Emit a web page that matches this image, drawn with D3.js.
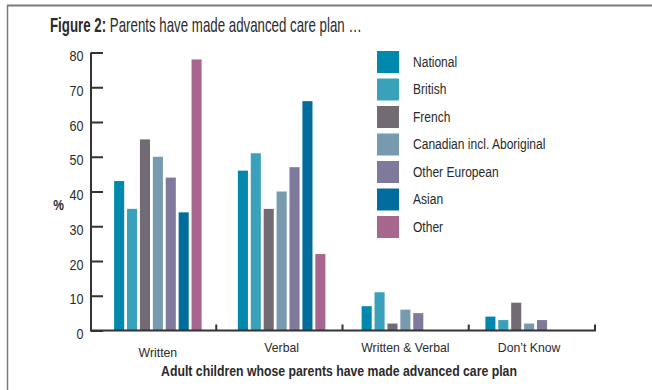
<!DOCTYPE html>
<html>
<head>
<meta charset="utf-8">
<script src="https://cdn.jsdelivr.net/npm/d3@7"></script>
<style>
  body { margin: 0; background: #fff; }
  svg text { font-family: "Liberation Sans", Arial, sans-serif; fill: #2a2a2a; }
</style>
</head>
<body>
<svg id="chart" width="652" height="390"></svg>
<script>
// Data
const categories = ["Written", "Verbal", "Written & Verbal", "Don\u2019t Know"];
const seriesNames = ["National", "British", "French", "Canadian incl. Aboriginal", "Other European", "Asian", "Other"];
const seriesColors = ["#0089ad", "#39a1b9", "#736b73", "#779aaf", "#7f7a9b", "#006d9c", "#a6668d"];
const national  = [43, 46, 7, 4];
const british   = [35, 51, 11, 3];
const french    = [55, 35, 2, 8];
const canadian  = [50, 40, 6, 2];
const otherEuro = [44, 47, 5, 3];
const asian     = [34, 66, 0, 0];
const other     = [78, 22, 0, 0];
const seriesValues = [national, british, french, canadian, otherEuro, asian, other];
const yTicks = [0, 10, 20, 30, 40, 50, 60, 70, 80];

const svg = d3.select("#chart");

// Squeeze a text horizontally so it reads like a condensed face.
// Each text is positioned by translate(x, y) and narrowed by scale(f, 1).
function condense(sel, f) {
  sel.each(function () {
    const t = d3.select(this);
    const x = +t.attr("data-x"), yy = +t.attr("data-y");
    t.attr("transform", `translate(${x},${yy}) scale(${f},1)`);
  });
}
function naturalWidth(node) { return node.getComputedTextLength(); }

// Frame (top and left rules)
svg.append("line").attr("x1", 7).attr("x2", 652).attr("y1", 5.5).attr("y2", 5.5)
  .attr("stroke", "#7a7a7a").attr("stroke-width", 2);
svg.append("line").attr("x1", 7.5).attr("x2", 7.5).attr("y1", 5).attr("y2", 390)
  .attr("stroke", "#7a7a7a").attr("stroke-width", 1.5);

// Title
const title = svg.append("text").attr("data-x", 50).attr("data-y", 31.5).style("font-size", "20px");
title.append("tspan").attr("font-weight", "bold").text("Figure 2:");
title.append("tspan").text(" Parents have made advanced care plan \u2026");
condense(title, 312 / naturalWidth(title.node()));

// Scales
const y = d3.scaleLinear().domain([0, 80]).range([330.5, 52.5]);
const xAxisScale = d3.scaleBand().domain(categories).range([90, 595]);
const x0 = d3.scaleBand().domain(categories).range([96, 591]);
const x1 = d3.scaleBand().domain(seriesNames).range([0, 87.5]).paddingInner(0.22).paddingOuter(0);

// Bars
const groups = svg.append("g").selectAll("g")
  .data(categories)
  .join("g")
  .attr("transform", d => `translate(${x0(d) + x0.bandwidth() / 2 - 43.75},0)`);

groups.selectAll("rect")
  .data((c, i) => seriesNames.map((s, j) => ({ s, j, v: seriesValues[j][i] })))
  .join("rect")
  .attr("x", d => x1(d.s))
  .attr("width", x1.bandwidth())
  .attr("y", d => y(d.v))
  .attr("height", d => y(0) - y(d.v))
  .attr("fill", d => seriesColors[d.j]);

// Y axis (ticks point into the plot)
const yAxis = svg.append("g").attr("transform", "translate(91,0)")
  .call(d3.axisRight(y).tickValues(yTicks).tickSize(12).tickFormat(""));
yAxis.select(".domain").attr("stroke", "#333").attr("stroke-width", 2).attr("d", `M0,${y(80)}V${y(0)}`);
yAxis.selectAll(".tick line").attr("stroke", "#333").attr("stroke-width", 2);

const yLabels = svg.append("g").selectAll("text")
  .data(yTicks)
  .join("text")
  .attr("data-x", 83.5)
  .attr("data-y", d => y(d) + 8.5)
  .attr("text-anchor", "end")
  .style("font-size", "14px")
  .text(d => d);
condense(yLabels, 0.9);

const pct = svg.append("text").attr("data-x", 58.5).attr("data-y", 210).attr("text-anchor", "middle")
  .attr("font-weight", "bold").style("font-size", "15px").text("%");
condense(pct, 0.8);

// X axis with boundary ticks
const xBoundaries = categories.map(c => xAxisScale(c) + xAxisScale.bandwidth());
svg.append("line").attr("x1", 90).attr("x2", 596).attr("y1", y(0)).attr("y2", y(0))
  .attr("stroke", "#333").attr("stroke-width", 2);
svg.append("g").selectAll("line")
  .data(xBoundaries)
  .join("line")
  .attr("x1", d => d).attr("x2", d => d)
  .attr("y1", y(0)).attr("y2", y(0) - 6)
  .attr("stroke", "#333").attr("stroke-width", 2);

const xLabels = svg.append("g").selectAll("text")
  .data(categories)
  .join("text")
  .attr("data-x", d => x0(d) + x0.bandwidth() / 2)
  .attr("data-y", (d, i) => i === 0 ? 356.5 : 351.5)
  .attr("text-anchor", "middle")
  .style("font-size", "12.5px")
  .text(d => d);
condense(xLabels, 88.3 / naturalWidth(xLabels.nodes()[2]));

const xTitle = svg.append("text").attr("data-x", 339).attr("data-y", 376).attr("text-anchor", "middle")
  .attr("font-weight", "bold").style("font-size", "14px")
  .text("Adult children whose parents have made advanced care plan");
condense(xTitle, 356 / naturalWidth(xTitle.node()));

// Legend
const legend = svg.append("g").selectAll("g")
  .data(seriesNames)
  .join("g")
  .attr("transform", (d, i) => `translate(377,${51 + i * 27.5})`);
legend.append("rect").attr("width", 22).attr("height", 22)
  .attr("fill", (d, i) => seriesColors[i]);
const legendText = legend.append("text").attr("data-x", 36).attr("data-y", 15.6)
  .style("font-size", "14.5px").text(d => d);
condense(legendText, 132.6 / naturalWidth(legendText.nodes()[3]));
</script>
</body>
</html>
